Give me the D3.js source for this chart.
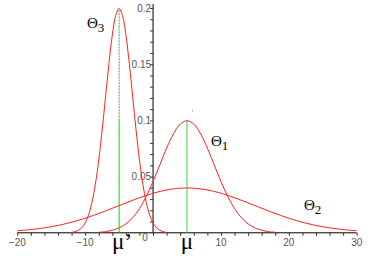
<!DOCTYPE html>
<html><head><meta charset="utf-8">
<script src="https://cdn.jsdelivr.net/npm/d3@7"></script>
<style>body{margin:0;background:#fff}svg{display:block}</style>
</head><body>
<svg id="c" width="372" height="260"></svg>
<script>
// Theta1 (mean 5)
const theta1X = [-8,-7,-6,-5,-4,-3,-2,-1,0,1,2,3,4,5,6,7,8,9,10,11,12,13,14,15,16,17,18];
const theta1Y = [0.0005,0.0011,0.0023,0.0044,0.0079,0.0135,0.0216,0.0324,0.0457,0.0605,0.0753,0.0880,0.0967,0.0997,0.0967,0.0880,0.0753,0.0605,0.0457,0.0324,0.0216,0.0135,0.0079,0.0044,0.0023,0.0011,0.0005];
// Theta2 (wide)
const theta2X = [-20,-17.5,-15,-12.5,-10,-7.5,-5,-2.5,0,2.5,5,7.5,10,12.5,15,17.5,20,22.5,25,27.5,30];
const theta2Y = [0.0018,0.0032,0.0054,0.0086,0.0130,0.0183,0.0242,0.0301,0.0352,0.0387,0.0399,0.0387,0.0352,0.0301,0.0242,0.0183,0.0130,0.0086,0.0054,0.0032,0.0018];
// Theta3 (mean -5)
const theta3X = [-12,-11.5,-11,-10.5,-10,-9.5,-9,-8.5,-8,-7.5,-7,-6.5,-6,-5.5,-5,-4.5,-4,-3.5,-3,-2.5,-2,-1.5,-1,-0.5,0,0.5,1,1.5,2];
const theta3Y = [0.0004,0.0010,0.0022,0.0045,0.0088,0.0159,0.0270,0.0431,0.0648,0.0913,0.1210,0.1506,0.1760,0.1933,0.1995,0.1933,0.1760,0.1506,0.1210,0.0913,0.0648,0.0431,0.0270,0.0159,0.0088,0.0045,0.0022,0.0010,0.0004];
const xTicks = [-20,-10,0,10,20,30];
const xTickLabels = ["\u221220","\u221210","0","10","20","30"];
const yTicks = [0.05,0.1,0.15,0.2];
const yTickLabels = ["0.05","0.1","0.15","0.2"];
const muValue = 5, muPeak = 0.0997;
const muPrimeValue = -5, muPrimeMid = 0.1, muPrimePeak = 0.1995;

const svg = d3.select("#c");
const x = d3.scaleLinear().domain([-20,30]).range([17.3,356.7]);
const y = d3.scaleLinear().domain([0,0.2]).range([232.8,8]);

// axes
const xAxis = svg.append("g").attr("transform",`translate(0,${y(0)})`)
  .call(d3.axisBottom(x).tickValues(d3.range(-20,31,2)).tickSize(3).tickFormat(""));
xAxis.select(".domain").attr("stroke","#000").attr("d",`M${x(-20)},0H${x(30)}`);
xAxis.selectAll(".tick line").attr("stroke","#333");
const yAxis = svg.append("g").attr("transform",`translate(${x(0)},0)`)
  .call(d3.axisLeft(y).tickValues(d3.range(0.01,0.201,0.01)).tickSize(3).tickFormat(""));
yAxis.select(".domain").attr("stroke","#000").attr("d",`M0,${y(0)}V${y(0.2035)}`);
yAxis.selectAll(".tick line").attr("stroke","#333");

// tick labels
svg.append("g").selectAll("text").data(xTicks).join("text")
  .attr("x",(d,i)=> d===0 ? x(d)-8 : x(d))
  .attr("y",(d)=> d===0 ? 241 : 246)
  .attr("text-anchor","middle")
  .attr("font-family","Liberation Sans, Arial, sans-serif").attr("font-size",10).attr("fill","#555")
  .text((d,i)=>xTickLabels[i]);
svg.append("g").selectAll("text").data(yTicks).join("text")
  .attr("x",x(0)-2).attr("y",d=>y(d)).attr("dy","0.35em")
  .attr("text-anchor","end")
  .attr("font-family","Liberation Sans, Arial, sans-serif").attr("font-size",10).attr("fill","#555")
  .text((d,i)=>yTickLabels[i]);

// mean lines
svg.append("line").attr("x1",x(muValue)).attr("x2",x(muValue)).attr("y1",y(0)).attr("y2",y(muPeak))
  .attr("stroke","#33dd33").attr("stroke-width",1);
svg.append("line").attr("x1",x(muPrimeValue)).attr("x2",x(muPrimeValue)).attr("y1",y(0)).attr("y2",y(muPrimeMid))
  .attr("stroke","#00dd00").attr("stroke-width",1);
svg.append("line").attr("x1",x(muPrimeValue)).attr("x2",x(muPrimeValue)).attr("y1",y(muPrimeMid)).attr("y2",y(muPrimePeak))
  .attr("stroke","#559955").attr("stroke-width",1).attr("stroke-dasharray","2,1");
svg.append("rect").attr("x",x(muValue)+5).attr("y",y(0.109)).attr("width",1).attr("height",1).attr("fill","#666");

// curves
const line = d3.line().x(d=>x(d[0])).y(d=>y(d[1])).curve(d3.curveCatmullRom);
[[theta1X,theta1Y],[theta2X,theta2Y],[theta3X,theta3Y]].forEach(([xs,ys])=>{
  svg.append("path").datum(xs.map((v,i)=>[v,ys[i]]))
    .attr("d",line).attr("fill","none").attr("stroke","#ff2020").attr("stroke-width",1);
});

// labels
function theta(px,py,sub){
  const t = svg.append("text").attr("x",px).attr("y",py)
    .attr("font-family","Liberation Serif, Times New Roman, serif").attr("font-size",15).attr("fill","#000");
  t.append("tspan").text("\u0398");
  t.append("tspan").attr("font-size",13).attr("dy",4).text(sub);
}
theta(87,28,"3");
theta(211,146,"1");
theta(304,210,"2");
svg.append("text").attr("x",x(muValue)).attr("y",249).attr("text-anchor","middle")
  .attr("font-family","Liberation Serif, Times New Roman, serif").attr("font-size",23).text("\u03bc");
svg.append("text").attr("x",x(muPrimeValue)+3).attr("y",249).attr("text-anchor","middle")
  .attr("font-family","Liberation Serif, Times New Roman, serif").attr("font-size",23).text("\u03bc\u2019");
</script>
</body></html>
